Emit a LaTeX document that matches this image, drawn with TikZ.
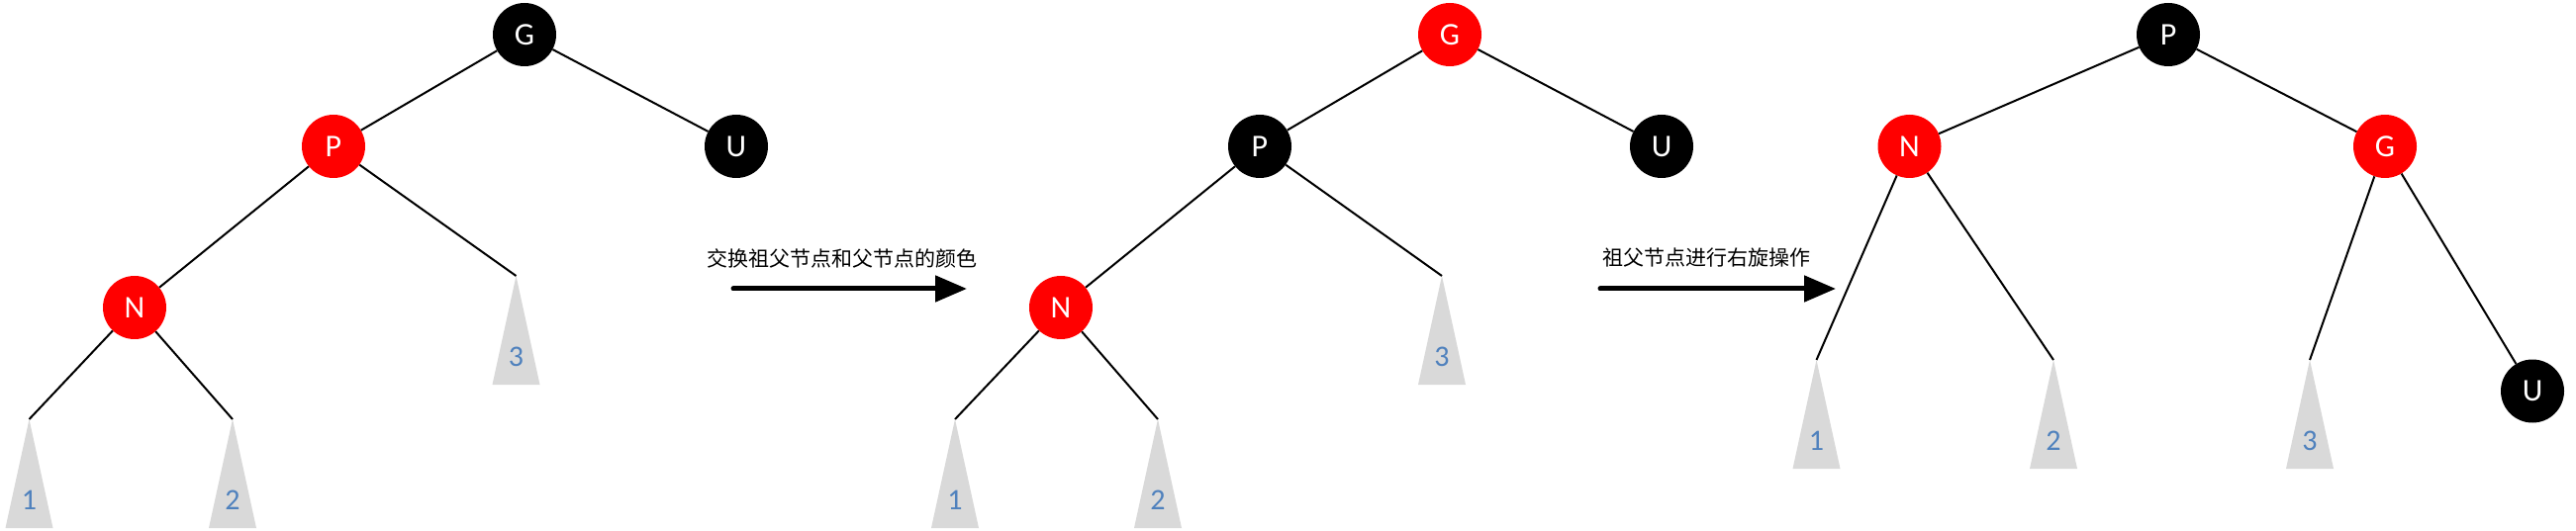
\documentclass[tikz,border=0pt]{standalone}
\usepackage{fontspec}
\setmainfont{Carlito}
\newfontfamily\cjk{Noto Sans CJK SC}
\usetikzlibrary{arrows.meta,calc}
\definecolor{trigray}{HTML}{D9D9D9}
\definecolor{lblblue}{HTML}{4F81BD}
\definecolor{nodered}{HTML}{FF0000}
\newcommand\subtri[3]{%
  \coordinate (#1) at #2;
  \fill[tri] (#1) -- ++(-24,110) -- ++(48,0) -- cycle;
  \node[lbl] (#1l) at ($(#1)+(0,82)$) {#3};
}
\begin{document}
\begin{tikzpicture}[x=1pt,y=-1pt,
  rnode/.style={circle,fill=nodered,minimum size=64pt,inner sep=0pt,text=white,font=\fontsize{32}{32}\selectfont},
  bnode/.style={circle,fill=black,minimum size=64pt,inner sep=0pt,text=white,font=\fontsize{32}{32}\selectfont},
  edge/.style={line width=2pt,black},
  tri/.style={fill=trigray},
  lbl/.style={text=lblblue,font=\fontsize{30}{30}\selectfont},
  arr/.style={line width=5pt,line cap=round,-{Triangle[length=32pt,width=26pt]}},
  captxt/.style={font=\cjk\fontsize{21}{21}\selectfont}
]
\fill[white] (0,0) rectangle (2603,537);
\useasboundingbox (0,0) rectangle (2603,537);

% ---------- tree 1 ----------
\subtri{a11}{(29.5,424)}{1}
\subtri{a12}{(235,424)}{2}
\subtri{a13}{(521.5,279)}{3}
\node[bnode] (g1) at (530,35) {G};
\node[rnode] (p1) at (337,148) {P};
\node[bnode] (u1) at (744,148) {U};
\node[rnode] (n1) at (136,311) {N};
\draw[edge] (g1) -- (p1);
\draw[edge] (g1) -- (u1);
\draw[edge] (p1) -- (n1);
\draw[edge] (p1) -- (a13);
\draw[edge] (n1) -- (a11);
\draw[edge] (n1) -- (a12);

% ---------- arrow 1 ----------
\node[captxt] (t1) at (851,261) {交换祖父节点和父节点的颜色};
\coordinate (s1) at (741,292);
\coordinate (e1) at (977,292);
\draw[arr] (s1) -- (e1);

% ---------- tree 2 ----------
\subtri{a21}{(965,424)}{1}
\subtri{a22}{(1170,424)}{2}
\subtri{a23}{(1457,279)}{3}
\node[rnode] (g2) at (1465,35) {G};
\node[bnode] (p2) at (1273,148) {P};
\node[bnode] (u2) at (1679,148) {U};
\node[rnode] (n2) at (1072,311) {N};
\draw[edge] (g2) -- (p2);
\draw[edge] (g2) -- (u2);
\draw[edge] (p2) -- (n2);
\draw[edge] (p2) -- (a23);
\draw[edge] (n2) -- (a21);
\draw[edge] (n2) -- (a22);

% ---------- arrow 2 ----------
\node[captxt] (t2) at (1724,261) {祖父节点进行右旋操作};
\coordinate (s2) at (1617,292);
\coordinate (e2) at (1855,292);
\draw[arr] (s2) -- (e2);

% ---------- tree 3 ----------
\subtri{a31}{(1835.5,364)}{1}
\subtri{a32}{(2075,364)}{2}
\subtri{a33}{(2334,364)}{3}
\node[bnode] (p3) at (2191,35) {P};
\node[rnode] (n3) at (1929.5,148) {N};
\node[rnode] (g3) at (2410,148) {G};
\node[bnode] (u3) at (2559,395.5) {U};
\draw[edge] (p3) -- (n3);
\draw[edge] (p3) -- (g3);
\draw[edge] (n3) -- (a31);
\draw[edge] (n3) -- (a32);
\draw[edge] (g3) -- (a33);
\draw[edge] (g3) -- (u3);
\end{tikzpicture}
\end{document}
